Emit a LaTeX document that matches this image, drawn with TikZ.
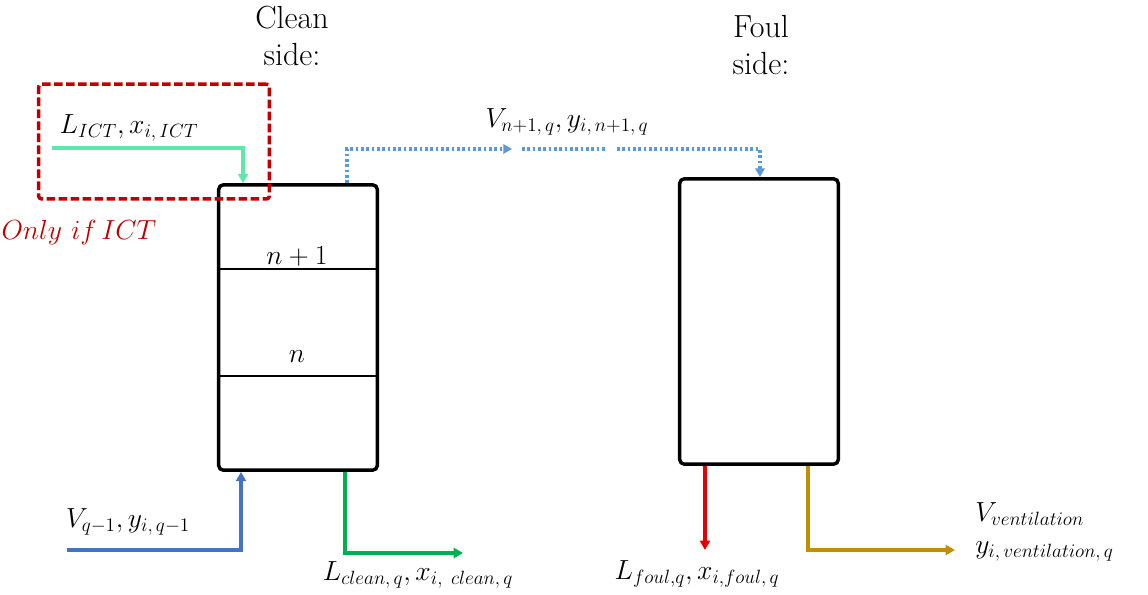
\documentclass[tikz,border=0pt]{standalone}
\usetikzlibrary{arrows.meta}
\DeclareMathSizes{20}{20}{15.5}{12}
\definecolor{ictred}{RGB}{192,0,0}
\definecolor{ictgreen}{RGB}{92,232,168}
\definecolor{dotblue}{RGB}{91,155,213}
\definecolor{vblue}{RGB}{68,114,196}
\definecolor{lgreen}{RGB}{0,176,80}
\definecolor{fred}{RGB}{230,0,0}
\definecolor{vgold}{RGB}{191,144,0}
\begin{document}
\begin{tikzpicture}[x=0.75pt,y=-0.75pt,
  column/.style={draw=black,line width=2.6pt,rounded corners=3.5pt,minimum width=119pt,minimum height=214pt,inner sep=0pt},
  stageline/.style={line width=1.7pt},
  lbl/.style={inner sep=0pt,font=\fontsize{20}{24}\selectfont},
  head/.style={inner sep=0pt,align=center,font=\fontsize{24}{28}\selectfont},
  flow/.style={line width=2.6pt},
  tip/.style={-{Triangle[length=7pt,width=7.5pt]}},
  dotflow/.style={draw=dotblue,line width=2.6pt,dash pattern=on 2pt off 2pt},
  dottip/.style={-{Triangle[length=6.5pt,width=7pt]}},
  frame/.style={draw=ictred,line width=2.6pt,dash pattern=on 6.5pt off 2.5pt,rounded corners=2pt,minimum width=173pt,minimum height=86pt,inner sep=0pt}
]
\useasboundingbox (0,0) rectangle (1148,595);

% headings
\node[head] (cleanhead) at (292,36) {Clean\\side:};
\node[head] (foulhead) at (761,45) {Foul\\side:};

% columns
\node[column] (clean) at (298,327.5) {};
\node[column] (foul) at (759,321.5) {};

% stages
\coordinate (s1) at (0,269);
\coordinate (s2) at (0,376);
\draw[stageline] (clean.west |- s1) -- (clean.east |- s1);
\draw[stageline] ([xshift=1pt]clean.west |- s2) -- ([xshift=-2pt]clean.east |- s2);
\node[lbl] (nplus) at (297,256) {$n+1$};
\node[lbl] (nn) at (297,357) {$n$};

% ICT frame
\node[frame] (ictframe) at (154,141.5) {};
\node[lbl,text=ictred] (onlyif) at (79,233) {$Only\,\,if\,ICT$};

% ICT inlet
\coordinate (li) at (52,148);
\coordinate (lic) at (243,148);
\draw[flow,draw=ictgreen,-{Triangle[length=7pt,width=7.5pt,fill=ictgreen]}] (li) -- (lic) -- (lic |- clean.north);
\node[lbl] (lictlbl) at (129,128) {$L_{ICT}, x_{i,\,ICT}$};

% vapour from clean to foul
\coordinate (d1) at (347,149);
\coordinate (d2) at (512,149);
\coordinate (d3) at (522,149);
\coordinate (d4) at (605,149);
\coordinate (d5) at (617,149);
\coordinate (d6) at (760,149);
\draw[dotflow,dottip] (clean.north -| d1) -- (d1) -- (d2);
\draw[dotflow] (d3) -- (d4);
\draw[dotflow,dottip] (d5) -- (d6) -- (d6 |- foul.north);
\node[lbl] (vnlbl) at (567,122) {$V_{n+1,\,q}, y_{i,\,n+1,\,q}$};

% vapour inlet
\coordinate (vin) at (67,550);
\coordinate (vinc) at (241,550);
\draw[flow,draw=vblue,tip] (vin) -- (vinc) -- (vinc |- clean.south);
\node[lbl] (vinlbl) at (128,522) {$V_{q-1}, y_{i,\,q-1}$};

% clean liquid outlet
\coordinate (lc) at (345,553);
\coordinate (lcend) at (463,553);
\draw[flow,draw=lgreen,tip] (clean.south -| lc) -- (lc) -- (lcend);
\node[lbl] (lclbl) at (418,575) {$L_{clean,\,q}, x_{i,\;\,clean,\,q}$};

% foul liquid outlet
\coordinate (lf) at (705,550);
\draw[flow,draw=fred,tip] (foul.south -| lf) -- (lf);
\node[lbl] (lflbl) at (697,574) {$L_{foul,q}, x_{i,foul,\,q}$};

% ventilation
\coordinate (vv) at (808,550);
\coordinate (vvend) at (955,550);
\draw[flow,draw=vgold,tip] (foul.south -| vv) -- (vv) -- (vvend);
\node[lbl,anchor=west] (vvlbl1) at (975,514) {$V_{ventilation}$};
\node[lbl,anchor=west] (vvlbl2) at (975,551) {$y_{i,\,ventilation,\,q}$};
\end{tikzpicture}
\end{document}
